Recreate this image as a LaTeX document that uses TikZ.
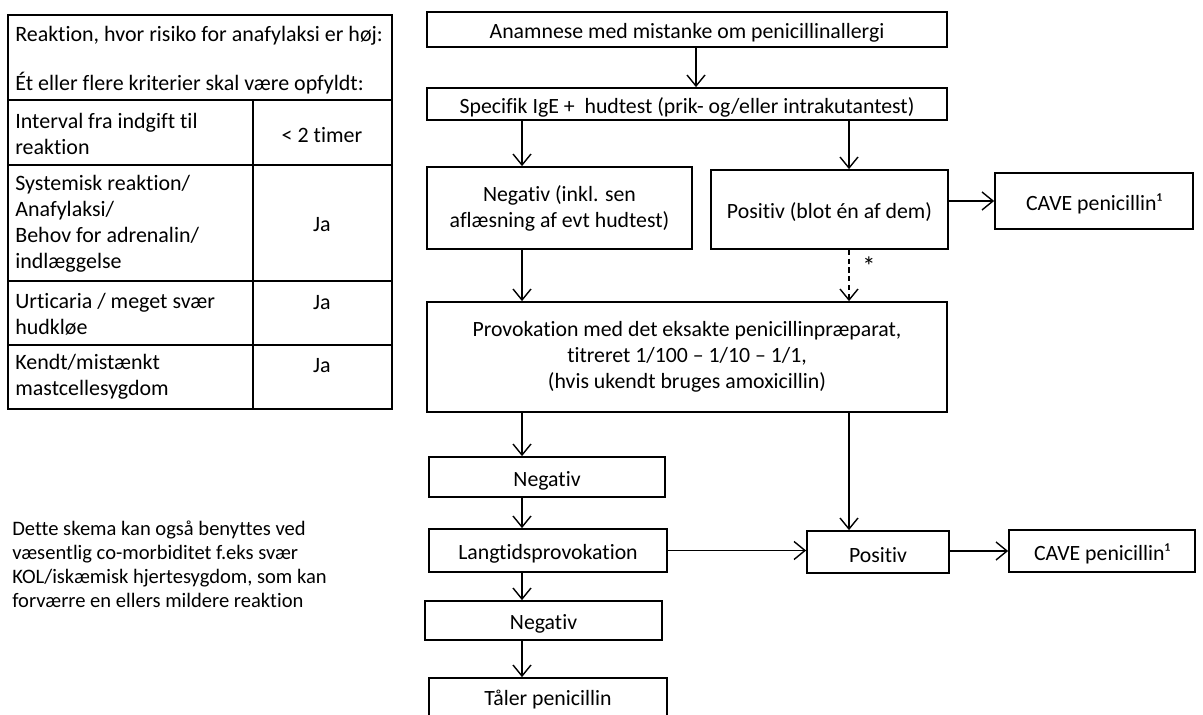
\documentclass[tikz,border=0pt]{standalone}
\usepackage{fontspec}
\setmainfont[Ligatures=NoCommon]{Carlito}
\usetikzlibrary{arrows.meta,positioning}

\begin{document}
\begin{tikzpicture}[x=0.02cm, y=-0.02cm,
    plainbox/.style={draw, rectangle, line width=1pt, inner sep=0pt, align=center, font=\fontsize{12.4}{14.8}\selectfont},
    box/.style={plainbox, execute at begin node={\rule{0pt}{12.4pt}}},
    txt/.style={inner sep=0pt, align=left, font=\fontsize{12.5}{14.8}\selectfont},
    arr/.style={line width=0.8pt, -{Straight Barb[length=2.2mm,width=3.6mm]}}]
    \def\u{0.02cm}
    \useasboundingbox (0,0) rectangle (1203,715);
    \clip (0,0) rectangle (1203,715);

    % criteria table
    \draw[line width=1pt] (8,15) rectangle (392,409);
    \draw[line width=1pt] (8,100) -- (392,100) (8,165) -- (392,165) (8,281) -- (392,281) (8,345) -- (392,345) (253,100) -- (253,409);
    \node[txt, anchor=west] (head1) at (15,36) {Reaktion, hvor risiko for anafylaksi er høj:};
    \node[txt, anchor=west] (head2) at (15,83) {Ét eller flere kriterier skal være opfyldt:};
    \node[txt, anchor=west] (crit1) at (15,134) {Interval fra indgift til\\reaktion};
    \node[txt] (val1) at (322,135) {< 2 timer};
    \node[txt, anchor=west] (crit2) at (15,224) {Systemisk reaktion/\\Anafylaksi/\\Behov for adrenalin/\\indlæggelse};
    \node[txt] (val2) at (322,225) {Ja};
    \node[txt, anchor=west] (crit3) at (15,314.5) {Urticaria / meget svær\\hudkløe};
    \node[txt] (val3) at (322,303) {Ja};
    \node[txt, anchor=west] (crit4) at (15,377) {Kendt/mistænkt\\mastcellesygdom};
    \node[txt] (val4) at (322,366) {Ja};

    \node[txt, anchor=west, font=\fontsize{11.7}{13.7}\selectfont] (note) at (12,564) {Dette skema kan også benyttes ved\\væsentlig co-morbiditet f.eks svær\\KOL/iskæmisk hjertesygdom, som kan\\forværre en ellers mildere reaktion};

    % flowchart
    \coordinate (colL) at (522,0);
    \coordinate (colR) at (849,0);
    \node[box, minimum width=520*\u, minimum height=35*\u] (anam) at (687,29.5) {Anamnese med mistanke om penicillinallergi};
    \node[box, minimum width=520*\u, minimum height=32*\u] (test) at (687,104) {Specifik IgE +\ \ hudtest (prik- og/eller intrakutantest)};
    \node[box, minimum width=265*\u, minimum height=82*\u] (neg1) at (559.5,208) {Negativ (inkl. sen\\aflæsning af evt hudtest)};
    \node[box, minimum width=237*\u, minimum height=79*\u] (pos1) at (829.5,209.5) {Positiv (blot én af dem)};
    \node[box, minimum width=198*\u, minimum height=56*\u] (cave1) at (1094,201) {CAVE penicillin¹};
    \node[box, minimum width=520*\u, minimum height=110*\u] (prov) at (687,357) {Provokation med det eksakte penicillinpræparat,\\titreret 1/100 – 1/10 – 1/1,\\(hvis ukendt bruges amoxicillin)};
    \node[box, minimum width=236*\u, minimum height=40*\u] (neg2) at (547,477) {Negativ};
    \node[box, minimum width=238*\u, minimum height=43*\u] (lang) at (548,550.5) {Langtidsprovokation};
    \node[box, minimum width=237*\u, minimum height=39*\u] (neg3) at (543.5,620.5) {Negativ};
    \node[plainbox, minimum width=238*\u, minimum height=44*\u] (taaler) at (548,700) {Tåler penicillin};
    \node[box, minimum width=142*\u, minimum height=42*\u] (pos2) at (878,552) {Positiv};
    \node[box, minimum width=186*\u, minimum height=42*\u] (cave2) at (1102,551) {CAVE penicillin¹};

    \draw[arr] ([xshift=9*\u]anam.south) -- ([xshift=9*\u]test.north);
    \draw[arr] (test.south -| colL) -- (neg1.north -| colL);
    \draw[arr] (test.south -| colR) -- (pos1.north -| colR);
    \draw[arr] (pos1.east |- cave1) -- (cave1.west);
    \draw[arr] (neg1.south -| colL) -- (prov.north -| colL);
    \draw[arr, dash pattern=on 3pt off 2pt] (pos1.south -| colR) -- (prov.north -| colR);
    \node[font=\fontsize{15}{16}\selectfont, inner sep=0pt] (star) at (869,266) {*};
    \draw[arr] (prov.south -| colL) -- (neg2.north -| colL);
    \draw[arr] (neg2.south -| colL) -- (lang.north -| colL);
    \draw[arr] (lang.south -| colL) -- (neg3.north -| colL);
    \draw[arr] (neg3.south -| colL) -- (taaler.north -| colL);
    \draw[arr] (prov.south -| colR) -- (pos2.north -| colR);
    \draw[arr] (lang.east) -- (pos2.west |- lang.east);
    \draw[arr] (pos2.east |- cave2) -- (cave2.west);
\end{tikzpicture}
\end{document}
